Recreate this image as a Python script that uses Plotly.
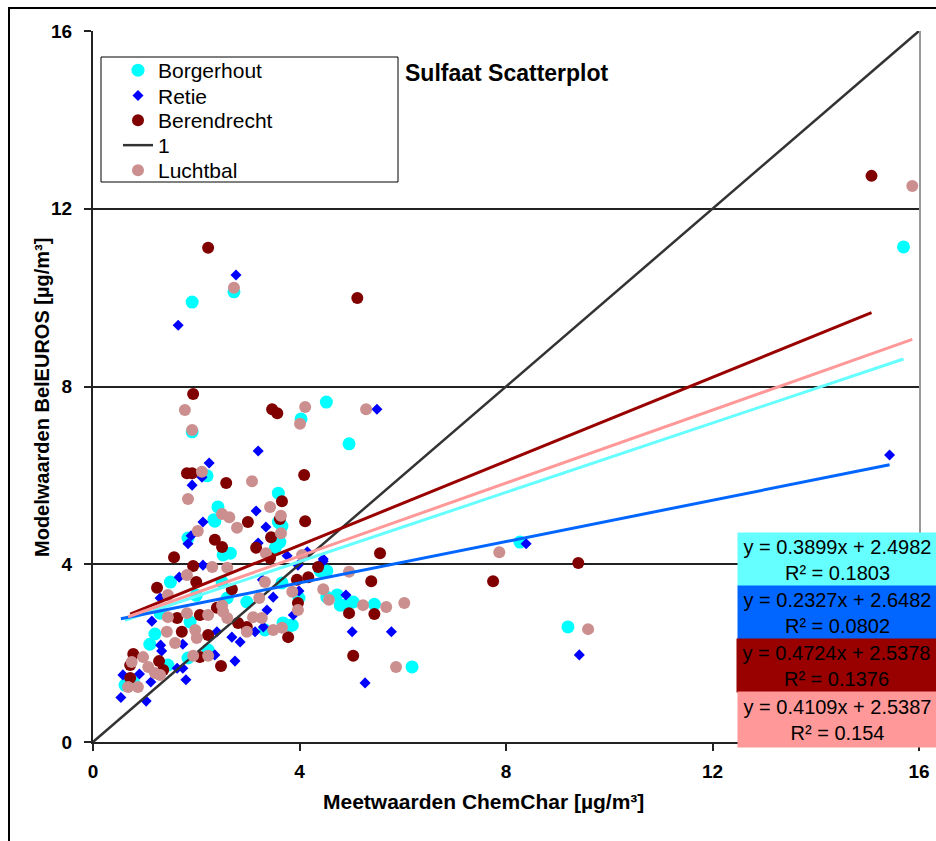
import plotly.graph_objects as go

# ---------------- data ----------------
borgerhout = [(15.70, 11.14), (1.92, 9.90), (2.73, 10.13), (1.92, 6.98), (4.52, 7.65), (4.03, 7.27),
              (4.96, 6.71), (8.27, 4.50), (9.20, 2.59), (6.18, 1.69), (5.45, 3.10), (5.04, 3.15),
              (4.88, 3.08), (4.73, 3.31), (4.53, 3.85), (3.59, 5.60), (2.21, 5.99), (2.42, 5.29),
              (2.36, 4.97), (1.84, 4.59), (2.52, 4.21), (3.66, 4.86), (3.62, 4.50), (3.53, 4.37),
              (2.66, 4.25), (3.99, 3.24), (3.82, 2.63), (3.59, 4.95), (3.59, 4.48), (2.34, 5.00),
              (4.40, 3.85), (3.66, 3.58), (0.62, 1.28), (0.78, 1.35), (1.45, 1.73), (1.10, 2.20),
              (1.20, 2.43), (1.88, 2.70), (2.23, 2.07), (1.84, 1.89), (3.68, 2.68), (3.33, 2.52),
              (3.86, 2.63), (4.53, 3.26), (4.79, 3.08), (2.98, 3.15), (2.60, 3.24), (1.50, 3.60),
              (2.00, 3.30), (2.50, 3.60), (1.30, 2.90)]

retie = [(15.43, 6.46), (1.65, 9.38), (2.77, 10.51), (5.50, 7.49), (8.39, 4.46), (9.42, 1.96),
         (5.27, 1.33), (5.02, 2.48), (5.78, 2.48), (4.90, 3.31), (4.46, 4.07), (3.76, 4.19),
         (3.99, 3.40), (3.88, 2.86), (2.25, 6.28), (3.20, 6.55), (1.92, 5.78), (2.13, 4.95),
         (3.16, 5.20), (3.35, 4.84), (1.84, 4.46), (1.90, 4.64), (3.20, 4.48), (3.97, 3.98),
         (4.15, 4.28), (4.46, 4.12), (2.11, 5.96), (2.13, 3.98), (1.67, 3.71), (0.54, 1.00),
         (1.03, 0.92), (0.58, 1.51), (0.90, 1.53), (1.12, 1.35), (1.80, 1.40), (1.63, 1.66),
         (1.74, 1.66), (2.36, 1.96), (2.75, 1.82), (1.31, 2.18), (1.33, 2.05), (1.14, 2.72),
         (1.74, 2.20), (2.40, 2.48), (2.69, 2.36), (2.85, 2.25), (3.14, 2.48), (3.37, 2.97),
         (3.30, 2.59), (1.30, 3.24), (3.49, 3.26), (3.28, 3.65)]

berendrecht = [(15.08, 12.74), (2.23, 11.12), (5.12, 9.99), (1.94, 7.83), (3.47, 7.49), (3.57, 7.40),
               (4.09, 6.01), (1.82, 6.05), (1.92, 6.05), (2.58, 5.83), (2.36, 4.55), (2.50, 4.39),
               (1.57, 4.16), (1.94, 3.96), (1.24, 3.47), (3.66, 5.42), (3.62, 5.02), (4.11, 4.97),
               (3.00, 4.95), (3.45, 4.61), (3.16, 4.37), (3.43, 4.14), (4.36, 3.94), (3.95, 3.65),
               (4.17, 3.71), (5.56, 4.25), (5.39, 3.62), (4.96, 2.90), (5.45, 2.88), (5.04, 1.94),
               (7.75, 3.62), (9.40, 4.03), (3.97, 3.13), (3.78, 2.36), (0.78, 1.98), (0.72, 1.73),
               (0.72, 1.44), (1.28, 1.82), (1.36, 1.62), (2.48, 1.71), (2.07, 1.91), (2.23, 2.41),
               (1.72, 2.48), (1.63, 2.79), (2.07, 2.86), (2.40, 3.02), (2.81, 2.68), (2.98, 2.59),
               (2.69, 3.44), (2.00, 3.60)]

luchtbal = [(15.87, 12.51), (2.73, 10.22), (1.78, 7.47), (1.92, 7.02), (4.11, 7.54), (4.01, 7.16),
            (5.29, 7.49), (2.11, 6.08), (1.84, 5.47), (2.50, 5.13), (2.64, 5.06), (2.03, 4.75),
            (2.31, 3.94), (1.82, 3.76), (3.08, 5.87), (3.43, 5.29), (3.64, 5.09), (2.79, 4.82),
            (3.64, 4.70), (3.35, 4.25), (4.05, 4.21), (2.60, 3.92), (4.46, 3.44), (4.57, 3.20),
            (4.96, 3.83), (5.23, 3.08), (5.68, 3.04), (6.03, 3.13), (5.87, 1.69), (7.87, 4.27),
            (9.59, 2.54), (3.86, 3.38), (3.97, 2.97), (3.33, 3.60), (1.45, 3.31), (0.68, 1.24),
            (0.87, 1.24), (0.75, 1.80), (0.97, 1.91), (1.07, 1.69), (1.20, 1.55), (1.30, 1.51),
            (1.94, 1.94), (2.23, 1.94), (1.43, 2.48), (1.59, 2.23), (1.98, 2.52), (2.01, 2.34),
            (2.23, 2.86), (2.52, 2.93), (2.60, 2.79), (2.50, 3.08), (2.98, 2.48), (3.10, 2.81),
            (3.27, 2.79), (3.49, 2.52), (3.66, 2.57), (3.22, 3.24), (1.45, 2.81), (1.82, 2.90)]

identity_line = [0, 16]

series_names = ["Borgerhout", "Retie", "Berendrecht", "Luchtbal"]
trend_slopes = [0.3899, 0.2327, 0.4724, 0.4109]
trend_intercepts = [2.4982, 2.6482, 2.5378, 2.5387]
trend_r2 = [0.1803, 0.0802, 0.1376, 0.154]

axis_ticks = [0, 4, 8, 12, 16]

# ---------------- styling ----------------
FONT = "Liberation Sans, Arial, sans-serif"
marker_colors = ["#00FFFF", "#0000FF", "#800000", "#CC8F8F"]
marker_symbols = ["circle", "diamond", "circle", "circle"]
marker_sizes = [13, 8.5, 12, 12]
trend_colors = ["#66FFFF", "#0066FF", "#990000", "#FF9999"]

W, H = 936, 841
ML, MR, MT, MB = 93, 17, 31, 99
PW, PH = W - ML - MR, H - MT - MB


def px_x(p):
    return (p - ML) / PW


def px_y(p):
    return (H - MB - p) / PH


data_sets = [borgerhout, retie, berendrecht, luchtbal]

fig = go.Figure()

legend_rows = {"Borgerhout": ("legend", 70.5), "Retie": ("legend2", 95.8),
               "Berendrecht": ("legend3", 120.5), "1": ("legend4", 145.5),
               "Luchtbal": ("legend5", 170.5)}


def add_series(i):
    pts = data_sets[i]
    name = series_names[i]
    fig.add_trace(go.Scatter(
        x=[p[0] for p in pts], y=[p[1] for p in pts], mode="markers", name=name,
        legend=legend_rows[name][0],
        marker=dict(color=marker_colors[i], symbol=marker_symbols[i], size=marker_sizes[i],
                    line=dict(width=0)),
        hoverinfo="x+y+name"))


add_series(0)
add_series(1)
add_series(2)
fig.add_trace(go.Scatter(x=identity_line, y=identity_line, mode="lines", name="1",
                         legend=legend_rows["1"][0],
                         line=dict(color="#333333", width=2.5)))
add_series(3)

# trend lines (drawn on top, from each series' min x to max x)
for i, pts in enumerate(data_sets):
    xs = [p[0] for p in pts]
    x0, x1 = min(xs), max(xs)
    fig.add_trace(go.Scatter(
        x=[x0, x1], y=[trend_slopes[i] * x0 + trend_intercepts[i], trend_slopes[i] * x1 + trend_intercepts[i]],
        mode="lines", showlegend=False, line=dict(color=trend_colors[i], width=3), hoverinfo="skip"))

# equation boxes
box_tops = [533, 586, 639, 692]
box_bottoms = [586, 639, 692, 747]
box_lefts = [737, 737, 736, 737]
annotations = []
for i in range(4):
    txt = f"y = {trend_slopes[i]}x + {trend_intercepts[i]}<br>R² = {trend_r2[i]}"
    hgt = box_bottoms[i] - box_tops[i]
    annotations.append(dict(
        xref="paper", yref="paper", x=px_x(box_lefts[i]), y=px_y((box_tops[i] + box_bottoms[i]) / 2),
        xanchor="left", yanchor="middle", text=txt, showarrow=False, align="center",
        width=199, height=hgt, borderpad=0, bgcolor=trend_colors[i],
        font=dict(family=FONT, size=20, color="black")))

annotations.append(dict(xref="paper", yref="paper", x=px_x(507), y=px_y(73), text="<b>Sulfaat Scatterplot</b>",
                        showarrow=False, xanchor="center", yanchor="middle",
                        font=dict(family=FONT, size=23, color="black")))
annotations.append(dict(xref="paper", yref="paper", x=px_x(483), y=px_y(801),
                        text="<b>Meetwaarden ChemChar [µg/m³]</b>", showarrow=False,
                        xanchor="center", yanchor="middle", font=dict(family=FONT, size=21, color="black")))
annotations.append(dict(xref="paper", yref="paper", x=px_x(42), y=px_y(398), textangle=-90,
                        text="<b>Modelwaarden BelEUROS [µg/m³]</b>", showarrow=False,
                        xanchor="center", yanchor="middle", font=dict(family=FONT, size=20, color="black")))

shapes = [
    # outer chart border
    dict(type="rect", xref="paper", yref="paper", x0=px_x(9), x1=px_x(1200), y0=px_y(1200), y1=px_y(8),
         line=dict(color="black", width=2), fillcolor="rgba(0,0,0,0)", layer="below"),
    # right plot-area border
    dict(type="line", xref="paper", yref="paper", x0=px_x(920), x1=px_x(920), y0=0, y1=1,
         line=dict(color="#999999", width=2)),
    # legend box
    dict(type="rect", xref="paper", yref="paper", x0=px_x(101), x1=px_x(398), y0=px_y(182), y1=px_y(57),
         line=dict(color="black", width=1), fillcolor="white", layer="below"),
]

legend_common = dict(xanchor="left", yanchor="middle", bgcolor="rgba(0,0,0,0)", borderwidth=0,
                     font=dict(family=FONT, size=21, color="black"))
layout_legends = {}
for nm, (lg, row) in legend_rows.items():
    layout_legends[lg] = dict(x=px_x(118), y=px_y(row), **legend_common)

axis_common = dict(range=[0, 16], tickvals=axis_ticks, ticks="outside", ticklen=7, tickwidth=2,
                   tickcolor="#222222", showline=True, linecolor="#222222", linewidth=2,
                   zeroline=False, tickfont=dict(family=FONT, size=19, color="black", weight="bold"),
                   fixedrange=True, automargin=False)

fig.update_layout(
    width=W, height=H, autosize=False,
    margin=dict(l=ML, r=MR, t=MT, b=MB, autoexpand=False),
    paper_bgcolor="white", plot_bgcolor="white",
    xaxis=dict(showgrid=False, ticklabelstandoff=4, **axis_common),
    yaxis=dict(showgrid=True, gridcolor="#222222", gridwidth=1.5, ticklabelstandoff=8, **axis_common),
    annotations=annotations, shapes=shapes,
    **layout_legends,
)

fig.write_html("out.html")
